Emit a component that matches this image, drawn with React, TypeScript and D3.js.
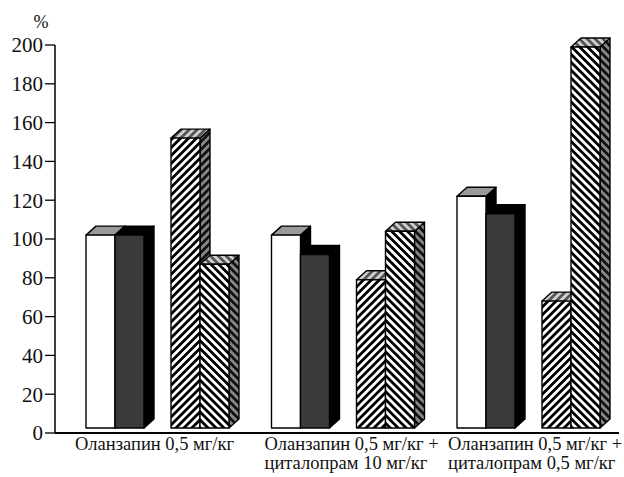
import React from "react";
import * as d3 from "d3";

const categories = [
  ["Оланзапин 0,5 мг/кг"],
  ["Оланзапин 0,5 мг/кг +", "циталопрам 10 мг/кг"],
  ["Оланзапин 0,5 мг/кг +", "циталопрам 0,5 мг/кг"],
];
const whiteVals = [102, 102, 122];
const darkVals = [102, 92, 113];
const hatchAVals = [152, 79, 68];
const hatchBVals = [87, 104, 199];
const yTicks = [0, 20, 40, 60, 80, 100, 120, 140, 160, 180, 200];

const W = 624;
const H = 477;
const DX = 10;
const DY = 9;

type Style = { front: string; top: string; side: string };
const styles: Style[] = [
  { front: "#ffffff", top: "#9a9a9a", side: "#000000" },
  { front: "#3a3a3a", top: "#000000", side: "#000000" },
  { front: "url(#hA)", top: "url(#hAtop)", side: "url(#hAside)" },
  { front: "url(#hB)", top: "url(#hBtop)", side: "url(#hBside)" },
];

const FONT = '"Liberation Serif", "Times New Roman", Times, serif';

function Hatch({ id, angle, bg, fg }: { id: string; angle: number; bg: string; fg: string }) {
  return (
    <pattern id={id} patternUnits="userSpaceOnUse" width={5.6} height={5.6} patternTransform={`rotate(${angle})`}>
      <rect width={5.6} height={5.6} fill={bg} />
      <rect width={2.8} height={5.6} fill={fg} />
    </pattern>
  );
}

export default function App() {
  const y = d3.scaleLinear().domain([0, 200]).range([433, 45]);
  const x0 = d3
    .scaleBand<number>()
    .domain(d3.range(categories.length))
    .range([55, 611.5])
    .padding(0);
  const pair = d3
    .scaleBand<number>()
    .domain([0, 1])
    .range([31, 174])
    .paddingInner(27 / 85)
    .paddingOuter(0);
  const sub = d3
    .scaleBand<number>()
    .domain([0, 1])
    .range([0, pair.bandwidth()])
    .padding(0);

  const series = [whiteVals, darkVals, hatchAVals, hatchBVals];
  const base = y(0) - 5;

  const bars: React.ReactNode[] = [];
  categories.forEach((_, gi) => {
    series.forEach((vals, si) => {
      const p = Math.floor(si / 2);
      const s = si % 2;
      const xl = (x0(gi) as number) + (pair(p) as number) + (sub(s) as number);
      const w = sub.bandwidth();
      const top = y(vals[gi]);
      const st = styles[si];
      const xr = xl + w;
      bars.push(
        <g key={`${gi}-${si}`} stroke="#000" strokeWidth={1.4} strokeLinejoin="round">
          <polygon
            points={`${xr},${top} ${xr + DX},${top - DY} ${xr + DX},${base - DY} ${xr},${base}`}
            fill={st.side}
          />
          <polygon
            points={`${xl},${top} ${xl + DX},${top - DY} ${xr + DX},${top - DY} ${xr},${top}`}
            fill={st.top}
          />
          <rect x={xl} y={top} width={w} height={base - top} fill={st.front} />
        </g>
      );
    });
  });

  return (
    <svg
      width={W}
      height={H}
      style={{ position: "absolute", left: 0, top: 0, background: "#fff", fontFamily: FONT }}
    >
      <defs>
        <Hatch id="hA" angle={45} bg="#fff" fg="#000" />
        <Hatch id="hB" angle={-45} bg="#fff" fg="#000" />
        <Hatch id="hAtop" angle={45} bg="#d0d0d0" fg="#555" />
        <Hatch id="hBtop" angle={-45} bg="#d0d0d0" fg="#555" />
        <Hatch id="hAside" angle={45} bg="#888" fg="#111" />
        <Hatch id="hBside" angle={-45} bg="#888" fg="#111" />
      </defs>

      <text x={41} y={28} fontSize={18} textAnchor="middle" fill="#111" style={{ fontFamily: FONT }}>%</text>

      {yTicks.map((t) => (
        <g key={t}>
          <line x1={45} x2={55} y1={y(t)} y2={y(t)} stroke="#000" strokeWidth={1.3} />
          <text
            x={43}
            y={y(t)}
            dy="0.35em"
            fontSize={21}
            textAnchor="end"
            fill="#111"
            style={{ fontFamily: FONT }}
          >
            {t}
          </text>
        </g>
      ))}

      {bars}

      <line x1={55} x2={55} y1={y(200)} y2={y(0)} stroke="#000" strokeWidth={1.5} />
      <line x1={55} x2={619} y1={y(0)} y2={y(0)} stroke="#000" strokeWidth={1.8} />

      {categories.map((lines, gi) =>
        lines.map((l, li) => (
          <text
            key={`${gi}-${li}`}
            x={(x0(gi) as number) + 22 + (gi === 1 ? 2 : gi === 0 ? -2 : 0)}
            y={450 + li * 19}
            fontSize={18.5}
            fill="#111"
            style={{ fontFamily: FONT }}
          >
            {l}
          </text>
        ))
      )}
    </svg>
  );
}
